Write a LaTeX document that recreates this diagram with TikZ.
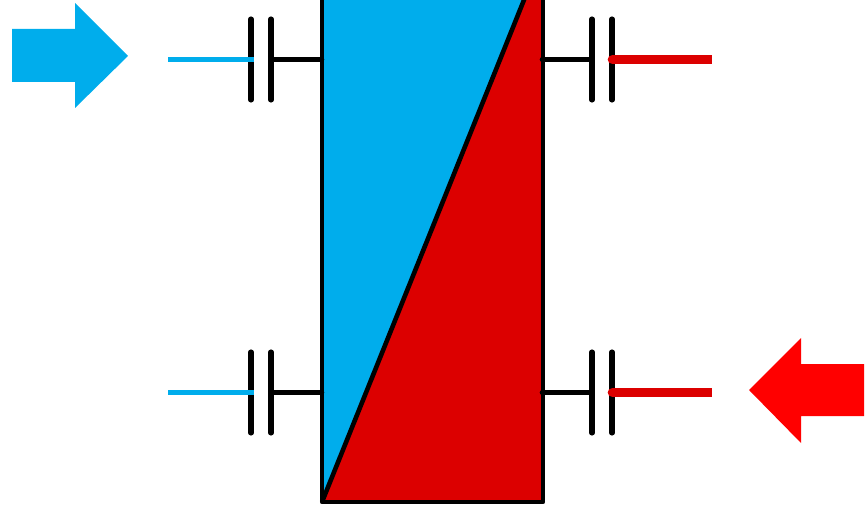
\documentclass[tikz,border=0pt]{standalone}
\usepackage{xcolor}
\usetikzlibrary{calc}
\definecolor{coldblue}{RGB}{0, 173, 236}
\definecolor{hotred}{RGB}{220, 0, 0}
\definecolor{arrowred}{RGB}{255, 0, 0}

\begin{document}
\begin{tikzpicture}[
          x=0.02cm, y=-0.02cm,
          platewire/.style={draw=black, line width=2.9pt, line cap=round},
          wallwire/.style={draw=black, line width=2.6pt, line cap=round},
          coldwire/.style={draw=coldblue, line width=3.4pt},
          hotwire/.style={draw=hotred, line width=4.9pt},
          wall/.style={draw=black, line width=2.6pt, line join=round}
        ]
          \useasboundingbox (0,0) rectangle (865,506);
          \clip (0,0) rectangle (865,506);

          % Exchanger body
          \coordinate (bodybl) at (322,502);
          \coordinate (bodybr) at (543,502);
          \coordinate (bodytl) at (322,-10);
          \coordinate (bodytr) at (543,-10);
          \coordinate (diagtop) at (528,-10);
          \fill[coldblue] (bodybl) -- (bodytl) -- (diagtop) -- cycle;
          \fill[hotred] (bodybl) -- (diagtop) -- (bodytr) -- (bodybr) -- cycle;
          \draw[wall] (bodytl) -- (bodybl) -- (bodybr) -- (bodytr);
          \draw[wall] (bodybl) -- (diagtop);

          % Capacitor terminals
          \foreach \name/\ypos in {top/59.5, bot/392.5} {
            \coordinate (cold\name) at (168,\ypos);
            \coordinate (coldin\name) at (254,\ypos);
            \coordinate (platea\name) at (251,\ypos);
            \coordinate (plateb\name) at (271,\ypos);
            \coordinate (wallleft\name) at (322,\ypos);
            \coordinate (wallright\name) at (542,\ypos);
            \coordinate (platec\name) at (592,\ypos);
            \coordinate (plated\name) at (612,\ypos);
            \coordinate (hot\name) at (712,\ypos);
            \foreach \plate in {platea,plateb,platec,plated} {
              \draw[platewire] ($(\plate\name)+(0,-40.5)$) -- ($(\plate\name)+(0,40.5)$);
            }
            \draw[wallwire] (plateb\name) -- (wallleft\name);
            \draw[wallwire] (wallright\name) -- (platec\name);
            \draw[coldwire] (cold\name) -- (coldin\name);
            \draw[hotwire] (plated\name) -- (hot\name);
            \fill[hotred] (plated\name) circle (4.3);
          }

          % Flow arrows
          \fill[coldblue] (12,29) -- (75,29) -- (75,3) -- (128,56) -- (75,108) -- (75,82) -- (12,82) -- cycle;
          \fill[arrowred] (864,364) -- (801,364) -- (801,338) -- (749,390) -- (801,443) -- (801,416) -- (864,416) -- cycle;
        \end{tikzpicture}
\end{document}
